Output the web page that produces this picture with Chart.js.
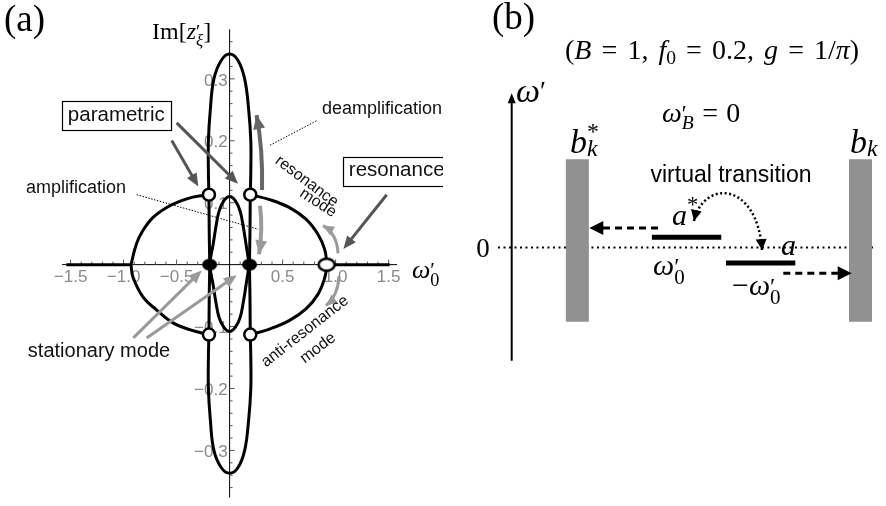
<!DOCTYPE html>
<html>
<head>
<meta charset="utf-8">
<script src="https://cdn.jsdelivr.net/npm/chart.js@4.4.1/dist/chart.umd.min.js"></script>
<style>
  html, body { margin: 0; padding: 0; background: #fff; }
  #wrap { position: relative; width: 886px; height: 506px; overflow: hidden; }
  canvas { position: absolute; top: 0; }
  #panelA { left: 0; }
  #panelB { left: 443px; }
</style>
</head>
<body>
<div id="wrap">
  <canvas id="panelA" width="443" height="506"></canvas>
  <canvas id="panelB" width="443" height="506"></canvas>
</div>
<script>
const SANS = '"Liberation Sans", Arial, sans-serif';
const SERIF = '"Liberation Serif", "Times New Roman", serif';

// ---------- panel (a): eigenvalues in the (omega'_0, Im z') plane ----------
const xTickValues = [-1.5, -1.0, -0.5, 0.5, 1.0, 1.5];
const xTickLabels = ['\u22121.5', '\u22121.0', '\u22120.5', '0.5', '1.0', '1.5'];
const yTickValues = [0.3, 0.2, 0.1, -0.1, -0.2, -0.3];
const yTickLabels = ['0.3', '0.2', '0.1', '\u22120.1', '\u22120.2', '\u22120.3'];

// purely real branches (on the axis)
const realLeftX = [-1.54, -0.93];
const realRightX = [0.92, 1.51];

// resonance / anti-resonance branches
const arcUpLeftX = [-0.93, -0.88, -0.818, -0.724, -0.597, -0.472, -0.346, -0.195];
const arcUpLeftY = [0, 0.033, 0.055, 0.076, 0.092, 0.102, 0.109, 0.113];
const arcLowLeftX = [-0.93, -0.912, -0.818, -0.69, -0.535, -0.377, -0.195];
const arcLowLeftY = [0, -0.02, -0.052, -0.073, -0.094, -0.105, -0.113];
const arcUpRightX = [0.195, 0.377, 0.566, 0.723, 0.833, 0.896, 0.92];
const arcUpRightY = [0.113, 0.105, 0.092, 0.073, 0.049, 0.025, 0];
const arcLowRightX = [0.195, 0.377, 0.566, 0.723, 0.833, 0.896, 0.92];
const arcLowRightY = [-0.113, -0.104, -0.09, -0.071, -0.048, -0.022, 0];

// parametric branches: tall lobes
const lobeTopX = [-0.195, -0.2, -0.2, -0.182, -0.148, -0.078, 0, 0.078, 0.142, 0.18, 0.2, 0.2, 0.195];
const lobeTopY = [0.113, 0.15, 0.2, 0.25, 0.3, 0.33, 0.34, 0.33, 0.3, 0.25, 0.2, 0.15, 0.113];
const lobeBotX = [-0.195, -0.2, -0.2, -0.182, -0.148, -0.078, 0, 0.078, 0.142, 0.18, 0.2, 0.2, 0.195];
const lobeBotY = [-0.113, -0.15, -0.2, -0.25, -0.3, -0.328, -0.337, -0.328, -0.3, -0.25, -0.2, -0.15, -0.113];
// near-vertical pieces between the exceptional points
const stemLeftX = [-0.195, -0.192, -0.188, -0.192, -0.195];
const stemRightX = [0.195, 0.192, 0.188, 0.192, 0.195];
const stemY = [0.113, 0.05, 0, -0.05, -0.113];
// inner loop through the stationary points
const innerX = [0.185, 0.155, 0.13, 0.1, 0.055, 0, -0.055, -0.1, -0.13, -0.155, -0.185, -0.155, -0.13, -0.1, -0.055, 0, 0.055, 0.1, 0.13, 0.155, 0.185];
const innerY = [0, 0.033, 0.06, 0.086, 0.103, 0.11, 0.103, 0.086, 0.06, 0.033, 0, -0.033, -0.06, -0.085, -0.101, -0.108, -0.101, -0.085, -0.06, -0.033, 0];

// special points
const exceptionalX = [-0.195, 0.195, -0.195, 0.195];
const exceptionalY = [0.113, 0.113, -0.113, -0.113];
const stationaryX = [-0.188, 0.188];
const stationaryY = [0, 0];
const resonanceX = [0.915];
const resonanceY = [0];

// ---------- panel (b): level scheme ----------
const bandNames = ['b*_k', 'b_k'];
const bandCenter = [1.817, 9.654];
const bandTop = [1.764, 1.764];
const bandBottom = [-1.484, -1.484];
const levelNames = ['a*', 'a'];
const levelStart = [3.88, 5.93];
const levelEnd = [5.8, 7.85];
const levelValue = [0.204, -0.31];
const zeroLineX = [-0.38, 10.0];

const pts = (xs, ys) => xs.map((x, i) => ({ x, y: ys[i] }));

function ovalMarker(w, h, fill, stroke, lw) {
  const c = document.createElement('canvas');
  c.width = w + 4; c.height = h + 4;
  const g = c.getContext('2d');
  g.beginPath();
  g.ellipse(c.width / 2, c.height / 2, w / 2, h / 2, 0, 0, Math.PI * 2);
  g.fillStyle = fill; g.fill();
  if (stroke) { g.lineWidth = lw; g.strokeStyle = stroke; g.stroke(); }
  return c;
}

function curve(data) {
  return {
    data, showLine: true, pointRadius: 0, borderColor: '#000', borderWidth: 3,
    tension: 0.4, fill: false, clip: false, order: 2
  };
}

// rich text: parts {t, it, sc, dy, stack, gap}
function mathText(ctx, x, y, parts, size, color) {
  ctx.save();
  ctx.fillStyle = color || '#000';
  ctx.textAlign = 'left';
  ctx.textBaseline = 'alphabetic';
  let cx = x, prevStart = x, prevEnd = x;
  for (const p of parts) {
    const s = size * (p.sc || 1);
    ctx.font = (p.it ? 'italic ' : '') + s + 'px ' + SERIF;
    const start = p.stack ? prevStart : cx;
    ctx.fillText(p.t, start, y + (p.dy || 0) * size);
    const end = start + ctx.measureText(p.t).width;
    if (p.stack) { cx = Math.max(prevEnd, end); prevEnd = cx; }
    else { prevStart = start; prevEnd = end; cx = end; }
    cx += (p.gap || 0) * size;
  }
  ctx.restore();
}

function head(ctx, tx, ty, dx, dy, len, half, color) {
  const n = Math.hypot(dx, dy) || 1;
  const ux = dx / n, uy = dy / n;
  ctx.beginPath();
  ctx.moveTo(tx, ty);
  ctx.lineTo(tx - ux * len - uy * half, ty - uy * len + ux * half);
  ctx.lineTo(tx - ux * len + uy * half, ty - uy * len - ux * half);
  ctx.closePath();
  ctx.fillStyle = color;
  ctx.fill();
}

function straightArrow(ctx, a, b, color, lw, len, half, dash) {
  const dx = b[0] - a[0], dy = b[1] - a[1];
  const n = Math.hypot(dx, dy);
  ctx.save();
  ctx.strokeStyle = color; ctx.lineWidth = lw;
  if (dash) ctx.setLineDash(dash);
  ctx.beginPath();
  ctx.moveTo(a[0], a[1]);
  ctx.lineTo(b[0] - dx / n * (len - 2), b[1] - dy / n * (len - 2));
  ctx.stroke();
  ctx.restore();
  head(ctx, b[0], b[1], dx, dy, len, half, color);
}

function curvedArrow(ctx, a, c, b, color, lw, len, half) {
  ctx.save();
  ctx.strokeStyle = color; ctx.lineWidth = lw;
  ctx.beginPath();
  ctx.moveTo(a[0], a[1]);
  ctx.quadraticCurveTo(c[0], c[1], b[0], b[1]);
  ctx.stroke();
  ctx.restore();
  head(ctx, b[0], b[1], b[0] - c[0], b[1] - c[1], len, half, color);
}

const annotA = {
  id: 'annotA',
  beforeDatasetsDraw(chart) {
    const { ctx, chartArea: area } = chart;
    const xs = chart.scales.x, ys = chart.scales.y;
    const x0 = xs.getPixelForValue(0), y0 = ys.getPixelForValue(0);
    ctx.save();
    ctx.strokeStyle = '#000';
    ctx.lineWidth = 1;
    ctx.beginPath();
    ctx.moveTo(area.left, y0); ctx.lineTo(area.right, y0);
    ctx.moveTo(x0, area.top); ctx.lineTo(x0, area.bottom);
    ctx.stroke();
    ctx.strokeStyle = '#555';
    ctx.beginPath();
    for (let k = -15; k <= 15; k++) {
      if (k === 0) continue;
      const px = xs.getPixelForValue(k / 10);
      const len = k % 5 === 0 ? 5 : 3;
      ctx.moveTo(px, y0); ctx.lineTo(px, y0 - len);
    }
    for (let k = -18; k <= 18; k++) {
      if (k === 0) continue;
      const py = ys.getPixelForValue(k / 50);
      const len = k % 5 === 0 ? 5 : 3;
      ctx.moveTo(x0, py); ctx.lineTo(x0 + len, py);
    }
    ctx.stroke();
    ctx.fillStyle = '#8a8a8a';
    ctx.font = '17px ' + SANS;
    ctx.textAlign = 'center'; ctx.textBaseline = 'middle';
    xTickValues.forEach((v, i) => ctx.fillText(xTickLabels[i], xs.getPixelForValue(v), y0 + 13));
    ctx.textAlign = 'right';
    yTickValues.forEach((v, i) => ctx.fillText(yTickLabels[i], x0 - 2, ys.getPixelForValue(v) + 2));
    ctx.restore();
  },
  afterDatasetsDraw(chart) {
    const ctx = chart.ctx;
    const xs = chart.scales.x, ys = chart.scales.y;
    const P = (x, y) => [xs.getPixelForValue(x), ys.getPixelForValue(y)];

    // thin dotted leader lines
    ctx.save();
    ctx.strokeStyle = '#000'; ctx.lineWidth = 1; ctx.setLineDash([1.5, 1.5]);
    [[P(-0.876, 0.1129), P(0.271, 0.0571)], [P(0.381, 0.1927), P(0.822, 0.2325)]].forEach(([a, b]) => {
      ctx.beginPath(); ctx.moveTo(a[0], a[1]); ctx.lineTo(b[0], b[1]); ctx.stroke();
    });
    ctx.restore();

    // pointer arrows
    straightArrow(ctx, P(-0.546, 0.2006), P(-0.295, 0.1263), '#555', 3, 13, 5.5);
    straightArrow(ctx, P(-0.499, 0.2289), P(0.079, 0.1306), '#555', 3, 13, 5.5);
    straightArrow(ctx, P(1.482, 0.1129), P(1.073, 0.0252), '#555', 3, 13, 5.5);
    straightArrow(ctx, P(-0.908, -0.1183), P(-0.263, -0.0093), '#9a9a9a', 3, 13, 5.5);
    straightArrow(ctx, P(-0.782, -0.1183), P(0.067, -0.0172), '#9a9a9a', 3, 13, 5.5);

    // flow of eigenvalues along the branches
    curvedArrow(ctx, P(0.306, 0.1204), P(0.315, 0.1874), P(0.254, 0.2416), '#666', 4, 14, 6);
    curvedArrow(ctx, P(0.287, 0.0949), P(0.315, 0.0566), P(0.277, 0.0167), '#9a9a9a', 4, 14, 6);
    curvedArrow(ctx, P(1.023, 0.0183), P(1.013, 0.0502), P(0.881, 0.063), '#9a9a9a', 3, 11, 5);
    curvedArrow(ctx, P(1.032, -0.0183), P(1.023, -0.0502), P(0.909, -0.0662), '#9a9a9a', 3, 11, 5);

    // labels
    ctx.save();
    ctx.fillStyle = '#111';
    ctx.textAlign = 'center'; ctx.textBaseline = 'middle';
    ctx.font = '18px ' + SANS;
    ctx.fillText('amplification', ...P(-1.449, 0.1236));
    ctx.fillText('deamplification', ...P(1.438, 0.2512));
    ctx.font = '20px ' + SANS;
    ctx.fillText('stationary mode', ...P(-1.232, -0.1396));
    [['parametric', P(-1.069, 0.2411)], ['resonance', P(1.576, 0.1515)]].forEach(([t, c]) => {
      ctx.font = '20.5px ' + SANS;
      const w = ctx.measureText(t).width;
      ctx.fillText(t, c[0], c[1]);
      ctx.lineWidth = 1.2; ctx.strokeStyle = '#000';
      ctx.strokeRect(Math.round(c[0] - w / 2 - 6) + 0.5, Math.round(c[1] - 14) + 0.5, Math.round(w + 12), 29);
    });
    ctx.font = '16px ' + SANS;
    [['resonance', P(0.727, 0.1343), 37], ['mode', P(0.834, 0.0997), 33],
     ['anti-resonance', P(0.711, -0.1077), -38], ['mode', P(0.834, -0.1348), -37]].forEach(([t, c, ang]) => {
      ctx.save();
      ctx.translate(c[0], c[1]);
      ctx.rotate(ang * Math.PI / 180);
      ctx.fillText(t, 0, 0);
      ctx.restore();
    });
    ctx.restore();

    // panel letter and axis titles
    ctx.save();
    ctx.fillStyle = '#000';
    ctx.font = '37px ' + SERIF;
    ctx.fillText('(a)', 4, 31);
    ctx.restore();
    mathText(ctx, 152, 39, [
      { t: 'Im[' }, { t: 'z', it: true }, { t: '\u2032', sc: 0.8, dy: -0.05 },
      { t: '\u03be', it: true, sc: 0.7, dy: 0.28, stack: true }, { t: ']' }
    ], 24);
    mathText(ctx, 412, 278, [
      { t: '\u03c9', it: true }, { t: '\u2032', sc: 0.8, dy: -0.05 },
      { t: '0', sc: 0.7, dy: 0.3, stack: true }
    ], 26);
  }
};

new Chart(document.getElementById('panelA'), {
  type: 'scatter',
  data: {
    datasets: [
      { data: pts(stationaryX, stationaryY), pointStyle: ovalMarker(15, 12, '#000'), pointRadius: 7, order: 0, clip: false },
      { data: pts(exceptionalX, exceptionalY), pointStyle: 'circle', pointRadius: 6, pointBackgroundColor: '#fff',
        pointBorderColor: '#000', pointBorderWidth: 2.5, order: 0, clip: false },
      { data: pts(resonanceX, resonanceY), pointStyle: ovalMarker(16, 12, '#fff', '#000', 2.5), pointRadius: 7, order: 0, clip: false },
      curve(pts(realLeftX, [0, 0])),
      curve(pts(realRightX, [0, 0])),
      curve(pts(arcUpLeftX, arcUpLeftY)),
      curve(pts(arcLowLeftX, arcLowLeftY)),
      curve(pts(arcUpRightX, arcUpRightY)),
      curve(pts(arcLowRightX, arcLowRightY)),
      curve(pts(lobeTopX, lobeTopY)),
      curve(pts(lobeBotX, lobeBotY)),
      curve(pts(stemLeftX, stemY)),
      curve(pts(stemRightX, stemY)),
      curve(pts(innerX, innerY))
    ]
  },
  options: {
    responsive: false,
    animation: false,
    layout: { padding: { left: 62.1, right: 45.9, top: 29.3, bottom: 2.7 } },
    plugins: { legend: { display: false }, tooltip: { enabled: false } },
    scales: {
      x: { type: 'linear', min: -1.58, max: 1.58, display: false },
      y: { type: 'linear', min: -0.376, max: 0.38, display: false }
    }
  },
  plugins: [annotA]
});

// ---------- panel (b) ----------
const annotB = {
  id: 'annotB',
  afterDatasetsDraw(chart) {
    const ctx = chart.ctx;
    const xs = chart.scales.x, ys = chart.scales.y;
    const P = (x, y) => [xs.getPixelForValue(x), ys.getPixelForValue(y)];

    // frequency axis
    const a0 = P(0, -2.264), a1 = P(0, 3.084);
    ctx.save();
    ctx.strokeStyle = '#000'; ctx.lineWidth = 2;
    ctx.beginPath(); ctx.moveTo(a0[0], a0[1]); ctx.lineTo(a1[0], a1[1] + 8); ctx.stroke();
    ctx.restore();
    head(ctx, a1[0], a1[1], 0, -1, 10, 4, '#000');

    // decay into the continua
    straightArrow(ctx, P(4.049, 0.39), P(2.148, 0.39), '#000', 3, 14, 7, [7, 5]);
    straightArrow(ctx, P(7.517, -0.516), P(9.41, -0.516), '#000', 3, 14, 7, [7, 5]);

    // virtual transition a* <-> a
    const s = P(5.046, 0.53), c1 = P(5.295, 1.35), c2 = P(6.79, 1.35), e = P(6.928, -0.05);
    ctx.save();
    ctx.strokeStyle = '#000'; ctx.lineWidth = 2.5; ctx.setLineDash([2, 2.5]);
    ctx.beginPath(); ctx.moveTo(s[0], s[1]);
    ctx.bezierCurveTo(c1[0], c1[1], c2[0], c2[1], e[0], e[1]);
    ctx.stroke();
    ctx.restore();
    head(ctx, s[0], s[1], s[0] - c1[0], s[1] - c1[1], 11, 5.5, '#000');
    head(ctx, e[0], e[1], e[0] - c2[0], e[1] - c2[1], 11, 5.5, '#000');

    // text
    ctx.save();
    ctx.fillStyle = '#000';
    ctx.font = '37px ' + SERIF;
    ctx.textBaseline = 'alphabetic';
    ctx.fillText('(b)', 49, 29);
    ctx.font = '27px ' + SERIF;
    ctx.textAlign = 'center';
    ctx.fillText('0', 40, 257);
    ctx.font = '23px ' + SANS;
    ctx.textBaseline = 'middle';
    ctx.fillText('virtual transition', 288, 176);
    ctx.restore();

    const g = 0.36;
    mathText(ctx, 122, 59, [
      { t: '(' }, { t: 'B', it: true, gap: g }, { t: '=', gap: g }, { t: '1,', gap: g },
      { t: 'f', it: true }, { t: '0', sc: 0.7, dy: 0.18, gap: g }, { t: '=', gap: g }, { t: '0.2,', gap: g },
      { t: 'g', it: true, gap: g }, { t: '=', gap: g }, { t: '1/' }, { t: '\u03c0', it: true }, { t: ')' }
    ], 28);
    mathText(ctx, 73, 102, [{ t: '\u03c9', it: true }, { t: '\u2032', sc: 0.8, dy: -0.05 }], 34);
    mathText(ctx, 219, 122, [
      { t: '\u03c9', it: true }, { t: '\u2032', sc: 0.8, dy: -0.05 },
      { t: 'B', it: true, sc: 0.7, dy: 0.25, stack: true, gap: 0.3 }, { t: '=', gap: 0.3 }, { t: '0' }
    ], 28);
    mathText(ctx, 127, 153, [
      { t: 'b', it: true }, { t: '*', sc: 0.7, dy: -0.4 },
      { t: 'k', it: true, sc: 0.7, dy: 0.08, stack: true }
    ], 34);
    mathText(ctx, 407, 153, [{ t: 'b', it: true }, { t: 'k', it: true, sc: 0.7, dy: 0.08 }], 34);
    mathText(ctx, 229, 225, [{ t: 'a', it: true }, { t: '*', sc: 0.75, dy: -0.45 }], 30);
    mathText(ctx, 338, 255, [{ t: 'a', it: true }], 30);
    mathText(ctx, 210, 275, [
      { t: '\u03c9', it: true }, { t: '\u2032', sc: 0.8, dy: -0.05 },
      { t: '0', sc: 0.7, dy: 0.3, stack: true }
    ], 30);
    mathText(ctx, 289, 295, [
      { t: '\u2212' }, { t: '\u03c9', it: true }, { t: '\u2032', sc: 0.8, dy: -0.05 },
      { t: '0', sc: 0.7, dy: 0.3, stack: true }
    ], 30);
  }
};

const bandSets = bandCenter.map((x, i) => ({
  label: bandNames[i],
  data: [{ x, y: bandBottom[i] }, { x, y: bandTop[i] }],
  showLine: true, pointRadius: 0, borderColor: '#919191', borderWidth: 23,
  borderCapStyle: 'butt', clip: false, order: 1
}));
const levelSets = levelValue.map((y, i) => ({
  label: levelNames[i],
  data: [{ x: levelStart[i], y }, { x: levelEnd[i], y }],
  showLine: true, pointRadius: 0, borderColor: '#000', borderWidth: 5,
  borderCapStyle: 'butt', clip: false, order: 0
}));

new Chart(document.getElementById('panelB'), {
  type: 'scatter',
  data: {
    datasets: [
      ...levelSets,
      ...bandSets,
      { label: 'zero', data: pts(zeroLineX, [0, 0]), showLine: true, pointRadius: 0, borderColor: '#000',
        borderWidth: 2, borderDash: [2, 3.5], clip: false, order: 2 }
    ]
  },
  options: {
    responsive: false,
    animation: false,
    layout: { padding: { left: 32.57, right: 13, top: 92.5, bottom: 143.5 } },
    plugins: { legend: { display: false }, tooltip: { enabled: false } },
    scales: {
      x: { type: 'linear', min: -1, max: 10, display: false },
      y: { type: 'linear', min: -2.3, max: 3.1, display: false }
    }
  },
  plugins: [annotB]
});
</script>
</body>
</html>
